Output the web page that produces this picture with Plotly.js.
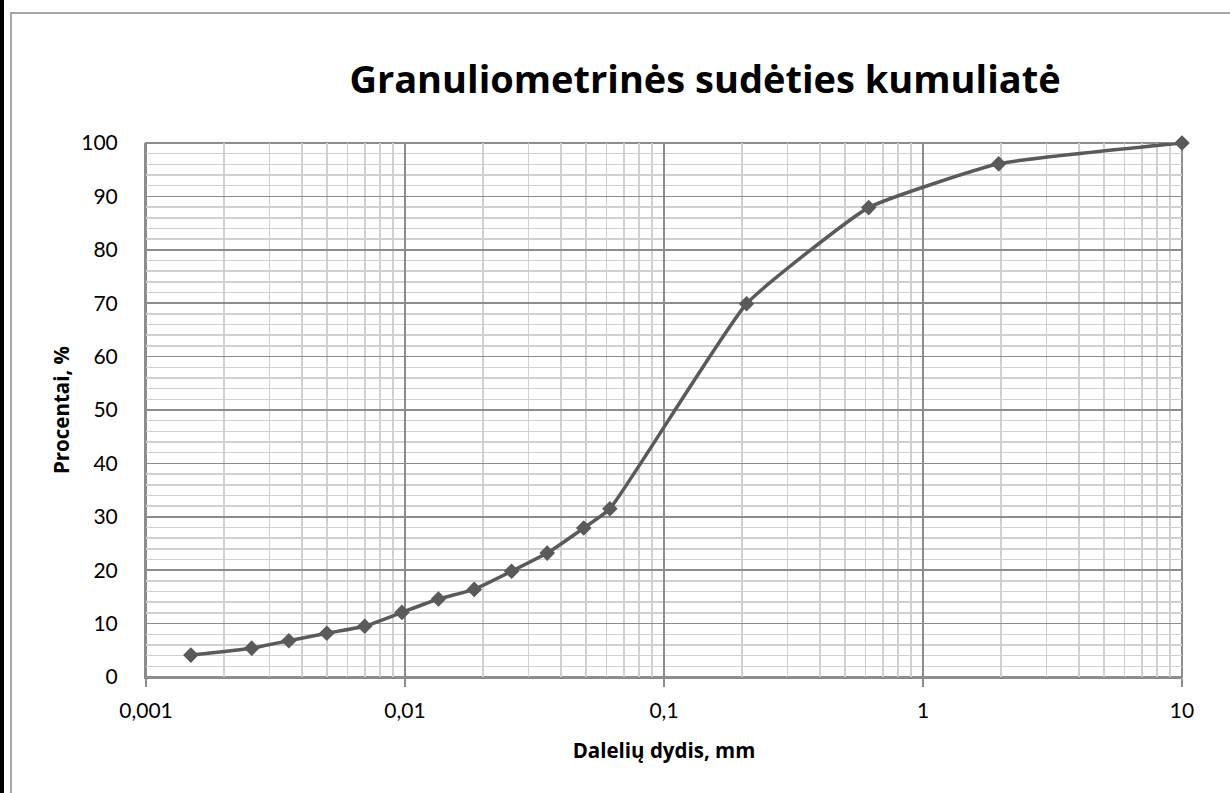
<!DOCTYPE html>
<html>
<head>
<meta charset="utf-8">
<script src="https://cdn.plot.ly/plotly-3.0.1.min.js"></script>
<style>
  html, body { margin: 0; padding: 0; background: #ffffff; }
  #wrap { position: relative; width: 1230px; height: 793px; overflow: hidden; }
  #chart { position: absolute; left: 0; top: 0; width: 1230px; height: 793px; }
  #edge { position: absolute; left: 0; top: 0; width: 4px; height: 793px; background: #000; pointer-events: none; }
  #frame { position: absolute; left: 10px; top: 12px; width: 1300px; height: 900px;
           border-left: 2px solid #a6a6a6; border-top: 2px solid #a6a6a6; pointer-events: none; }
</style>
</head>
<body>
<div id="wrap">
  <div id="chart"></div>
  <div id="frame"></div>
  <div id="edge"></div>
</div>
<script>
// Particle size (mm) and cumulative percent
const particleSize = [0.00149, 0.00256, 0.00356, 0.00499, 0.00699, 0.00973, 0.01346, 0.0185, 0.0258, 0.0354, 0.049, 0.0618, 0.2083, 0.617, 1.96, 10];
const cumulativePercent = [4.1, 5.4, 6.8, 8.2, 9.5, 12.1, 14.6, 16.4, 19.8, 23.2, 27.9, 31.5, 69.9, 87.9, 96.1, 100];

const xTickVals = [0.001, 0.01, 0.1, 1, 10];
const xTickText = ['0,001', '0,01', '0,1', '1', '10'];
const yTickVals = [0, 10, 20, 30, 40, 50, 60, 70, 80, 90, 100];

const titleText = 'Granuliometrinės sudėties kumuliatė';
const xTitle = 'Dalelių dydis, mm';
const yTitle = 'Procentai, %';

const FONT = 'Lato, "Open Sans", "DejaVu Sans", sans-serif';
const BOLDFONT = '"Open Sans", Lato, "DejaVu Sans", sans-serif';
const MAJOR = '#8c8c8c';
const MINOR = '#d0d0d0';
const SERIES = '#5a5a5a';

const trace = {
  x: particleSize,
  y: cumulativePercent,
  type: 'scatter',
  mode: 'lines+markers',
  line: { color: SERIES, width: 3.5, shape: 'spline', smoothing: 0.4 },
  marker: { symbol: 'diamond', size: 12, color: SERIES },
  cliponaxis: false,
  hoverinfo: 'x+y'
};

const layout = {
  width: 1230,
  height: 793,
  margin: { l: 146, r: 48, t: 143, b: 116 },
  paper_bgcolor: 'rgba(0,0,0,0)',
  plot_bgcolor: '#ffffff',
  showlegend: false,
  font: { family: FONT, color: '#000000' },
  title: {
    text: '<b>' + titleText + '</b>',
    font: { family: BOLDFONT, size: 38, color: '#000000' },
    x: 0.5396, xref: 'paper', xanchor: 'center',
    y: 0.899, yref: 'container', yanchor: 'middle'
  },
  xaxis: {
    type: 'log',
    range: [-3, 1],
    tickvals: xTickVals,
    ticktext: xTickText,
    ticks: 'outside',
    ticklen: 8,
    tickwidth: 1.5,
    tickcolor: MAJOR,
    ticklabelstandoff: 6,
    tickfont: { family: FONT, size: 21, color: '#000000' },
    showgrid: true,
    gridcolor: MAJOR,
    gridwidth: 1.5,
    minor: { dtick: 'D1', showgrid: true, gridcolor: MINOR, gridwidth: 1.5, ticks: '' },
    showline: true,
    linecolor: MAJOR,
    linewidth: 2,
    mirror: false,
    zeroline: false,
    title: { text: '<b>' + xTitle + '</b>', font: { family: BOLDFONT, size: 20.5, color: '#000000' }, standoff: 22 }
  },
  yaxis: {
    range: [0, 100],
    tickvals: yTickVals,
    ticks: '',
    ticklabelstandoff: 22,
    tickfont: { family: FONT, size: 21, color: '#000000' },
    showgrid: true,
    gridcolor: MAJOR,
    gridwidth: 1.5,
    minor: { dtick: 2, showgrid: true, gridcolor: MINOR, gridwidth: 1.5, ticks: '' },
    showline: true,
    linecolor: MAJOR,
    linewidth: 2,
    zeroline: false,
    title: { text: '<b>' + yTitle + '</b>', font: { family: BOLDFONT, size: 20.5, color: '#000000' }, standoff: 6 }
  },
  shapes: [
    { type: 'rect', xref: 'paper', yref: 'paper', x0: 0, x1: 1, y0: 0, y1: 1,
      line: { color: MAJOR, width: 2 }, fillcolor: 'rgba(0,0,0,0)', layer: 'below' }
  ]
};

Plotly.newPlot('chart', [trace], layout, { displayModeBar: false, staticPlot: true });
</script>
</body>
</html>
